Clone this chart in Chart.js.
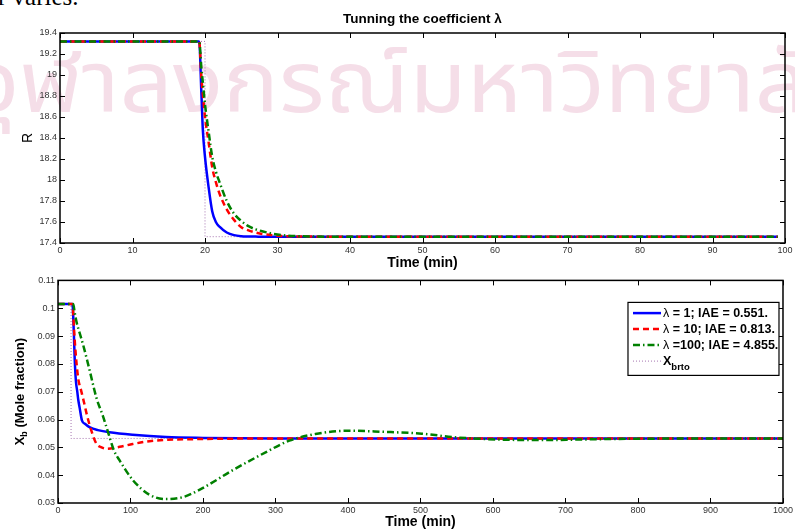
<!DOCTYPE html>
<html>
<head>
<meta charset="utf-8">
<script src="https://cdn.jsdelivr.net/npm/chart.js@4.4.0/dist/chart.umd.min.js"></script>
<style>
  body { margin: 0; background: #fff; width: 795px; height: 531px; overflow: hidden; position: relative; }
  #mark { position: absolute; left: -30px; top: 44px; font-size: 118px; line-height: 1; color: rgb(245, 222, 232);
          white-space: nowrap; font-family: "Noto Sans Thai", "Noto Sans", sans-serif;
          transform: scale(0.79, 0.72); transform-origin: 0 0; }
  #cut { position: absolute; left: -2px; top: -17px; font: 25px "Liberation Serif", serif; color: #000; }
  #topChart { position: absolute; left: 0; top: 0; }
  #botChart { position: absolute; left: 0; top: 272px; }
</style>
</head>
<body>
<div id="mark">จุฬาลงกรณ์มหาวิทยาลัย</div>
<div id="cut">r varies.</div>
<canvas id="topChart" width="795" height="272"></canvas>
<canvas id="botChart" width="795" height="259"></canvas>
<script>
// ---- top plot: R vs time ----
const timeR = [0, 19.2, 19.5, 19.7, 20, 20.5, 21, 21.5, 22, 23, 24, 25, 26, 27, 28, 30, 33, 40, 99];
const rLambda1   = [19.32, 19.32, 18.83, 18.48, 18.22, 17.93, 17.70, 17.60, 17.555, 17.50, 17.475, 17.465, 17.462, 17.461, 17.46, 17.46, 17.46, 17.46, 17.46];
const rLambda10  = [19.32, 19.32, 18.98, 18.82, 18.60, 18.36, 18.12, 17.98, 17.87, 17.72, 17.62, 17.55, 17.52, 17.50, 17.485, 17.47, 17.462, 17.46, 17.46];
const rLambda100 = [19.32, 19.32, 19.07, 18.93, 18.72, 18.46, 18.22, 18.08, 17.98, 17.80, 17.68, 17.61, 17.56, 17.53, 17.51, 17.48, 17.465, 17.46, 17.46];
const refTimeR = [0, 20, 20, 99];
const refR = [19.32, 19.32, 17.46, 17.46];

// ---- bottom plot: Xb vs time ----
const tBlue  = [0, 20, 21, 22, 23, 24, 25, 26.5, 28, 30, 33, 38, 44, 55, 71, 103, 149, 200, 300, 1000];
const xbBlue = [0.1015, 0.1015, 0.097, 0.09, 0.082, 0.0765, 0.073, 0.0702, 0.067, 0.064, 0.0597, 0.0583, 0.0572, 0.0562, 0.0554, 0.0545, 0.0537, 0.0534, 0.0532, 0.0532];
const tRed   = [0, 20, 21, 22, 24, 26, 28, 32, 36, 40, 46, 53, 60, 67, 85, 103, 126, 150, 200, 300, 1000];
const xbRed  = [0.1015, 0.1015, 0.098, 0.093, 0.085, 0.079, 0.0745, 0.0703, 0.066, 0.0615, 0.056, 0.0513, 0.050, 0.0495, 0.0502, 0.0512, 0.0522, 0.0527, 0.053, 0.0532, 0.0532];
const tGreen  = [0, 21, 23, 25.6, 30, 34.8, 40, 44, 53, 62, 69, 77, 85, 103, 126, 149, 172, 195, 241, 287, 319, 355, 401, 447, 502, 548, 580, 625, 671, 717, 763, 808, 870, 1000];
const xbGreen = [0.1015, 0.1015, 0.0985, 0.095, 0.091, 0.0867, 0.0815, 0.0773, 0.0678, 0.0612, 0.0555, 0.049, 0.0453, 0.0383, 0.033, 0.0314, 0.0321, 0.0347, 0.0418, 0.0483, 0.0524, 0.0548, 0.056, 0.0556, 0.0549, 0.0536, 0.0531, 0.0527, 0.0526, 0.0528, 0.053, 0.0531, 0.0532, 0.0532];
const refTimeXb = [0, 18, 18, 1000];
const refXb = [0.1015, 0.1015, 0.0532, 0.0532];

const legendLabels = ['λ = 1; IAE = 0.551.', 'λ = 10; IAE = 0.813.', 'λ =100; IAE = 4.855.', 'X_brto'];

const BLUE = '#0000ff', RED = '#ff0000', GREEN = '#008000', REF = 'rgb(165,115,175)';
const FONT = '"Liberation Sans", Arial, sans-serif';

function pts(xs, ys) { return xs.map((x, i) => ({ x: x, y: ys[i] })); }

function seriesSets(tb, b, tr, r, tg, g, tref, ref) {
  return [
    { label: legendLabels[2], data: pts(tg, g), borderColor: GREEN, borderWidth: 2.5, borderDash: [7, 3, 1.5, 3], cubicInterpolationMode: 'monotone', order: 1 },
    { label: legendLabels[1], data: pts(tr, r), borderColor: RED, borderWidth: 2.5, borderDash: [6, 4], cubicInterpolationMode: 'monotone', order: 2 },
    { label: legendLabels[0], data: pts(tb, b), borderColor: BLUE, borderWidth: 2.5, cubicInterpolationMode: 'monotone', order: 3 },
    { label: legendLabels[3], data: pts(tref, ref), borderColor: REF, borderWidth: 1, borderDash: [1, 2], order: 4 }
  ];
}

// inward ticks on all four sides plus the axes box
const boxTicks = {
  id: 'boxTicks',
  afterDatasetsDraw(chart) {
    const { ctx, chartArea: a, scales: { x, y } } = chart;
    ctx.save();
    ctx.strokeStyle = '#000';
    ctx.lineWidth = 1;
    ctx.beginPath();
    x.ticks.forEach(t => {
      const p = Math.round(x.getPixelForValue(t.value)) + 0.5;
      ctx.moveTo(p, a.bottom); ctx.lineTo(p, a.bottom - 5);
      ctx.moveTo(p, a.top); ctx.lineTo(p, a.top + 5);
    });
    y.ticks.forEach(t => {
      const p = Math.round(y.getPixelForValue(t.value)) + 0.5;
      ctx.moveTo(a.left, p); ctx.lineTo(a.left + 5, p);
      ctx.moveTo(a.right, p); ctx.lineTo(a.right - 5, p);
    });
    ctx.stroke();
    ctx.lineWidth = 1.5;
    ctx.strokeRect(a.left, a.top, a.right - a.left, a.bottom - a.top);
    ctx.restore();
  }
};

function tickFmt(v) { return String(+v.toFixed(3)); }

function baseScales(xmin, xmax, xstep, ymin, ymax, ystep, yWidth, xHeight) {
  return {
    x: {
      type: 'linear', min: xmin, max: xmax,
      afterFit: s => { s.height = xHeight; },
      ticks: { stepSize: xstep, padding: 2, color: '#333', font: { family: FONT, size: 9 }, maxRotation: 0, callback: tickFmt },
      grid: { drawOnChartArea: false, drawTicks: false },
      border: { display: false },
      title: { display: true, text: 'Time (min)', color: '#000', font: { family: FONT, size: 14, weight: 'bold', lineHeight: 1 }, padding: { top: 0, bottom: 2 } }
    },
    y: {
      min: ymin, max: ymax,
      afterFit: s => { s.width = yWidth; },
      ticks: { stepSize: ystep, padding: 3, color: '#333', font: { family: FONT, size: 9 }, callback: tickFmt },
      grid: { drawOnChartArea: false, drawTicks: false },
      border: { display: false }
    }
  };
}

const topScales = baseScales(0, 100, 10, 17.4, 19.4, 0.2, 60, 29);
topScales.y.title = { display: true, text: 'R', color: '#000', font: { family: FONT, size: 14, lineHeight: 1 }, padding: { top: 21, bottom: 0 } };

new Chart(document.getElementById('topChart'), {
  type: 'line',
  data: { datasets: seriesSets(timeR, rLambda1, timeR, rLambda10, timeR, rLambda100, refTimeR, refR) },
  options: {
    responsive: false, animation: false,
    layout: { padding: { left: 0, right: 10, top: 0, bottom: 0 } },
    elements: { point: { radius: 0 } },
    scales: topScales,
    plugins: {
      legend: { display: false }, tooltip: { enabled: false },
      title: { display: true, fullSize: false, text: 'Tunning the coefficient λ', color: '#000', font: { family: FONT, size: 13.5, weight: 'bold', lineHeight: 1.2 }, padding: { top: 11.5, bottom: 5.3 } }
    }
  },
  plugins: [boxTicks]
});

// legend box + subscripted y label for the lower plot
const lowerDecor = {
  id: 'lowerDecor',
  afterDraw(chart) {
    const { ctx, chartArea: a } = chart;
    ctx.save();
    // y axis label X_b (Mole fraction)
    ctx.translate(20, (a.top + a.bottom) / 2);
    ctx.rotate(-Math.PI / 2);
    ctx.fillStyle = '#000';
    ctx.textBaseline = 'middle';
    const big = 'bold 13px ' + FONT, small = 'bold 9px ' + FONT;
    ctx.font = big; const wX = ctx.measureText('X').width; const wRest = ctx.measureText(' (Mole fraction)').width;
    ctx.font = small; const wb = ctx.measureText('b').width;
    let sx = -(wX + wb + wRest) / 2;
    ctx.font = big; ctx.fillText('X', sx, 0); sx += wX;
    ctx.font = small; ctx.fillText('b', sx, 5); sx += wb;
    ctx.font = big; ctx.fillText(' (Mole fraction)', sx, 0);
    ctx.restore();

    // legend
    const bx = a.right - 155, by = a.top + 22, bw = 151, bh = 73;
    ctx.save();
    ctx.fillStyle = '#fff';
    ctx.fillRect(bx, by, bw, bh);
    ctx.strokeStyle = '#000'; ctx.lineWidth = 1.2;
    ctx.strokeRect(bx, by, bw, bh);
    const sets = chart.data.datasets.slice().sort((p, q) => legendLabels.indexOf(p.label) - legendLabels.indexOf(q.label));
    sets.forEach((ds, i) => {
      const ry = by + 10.7 + i * 16;
      ctx.beginPath();
      ctx.strokeStyle = ds.borderColor; ctx.lineWidth = ds.borderWidth;
      ctx.setLineDash(ds.borderDash || []);
      ctx.moveTo(bx + 5, ry); ctx.lineTo(bx + 33, ry);
      ctx.stroke();
      ctx.setLineDash([]);
      ctx.fillStyle = '#000'; ctx.textBaseline = 'middle';
      const lab = ds.label;
      let tx = bx + 35;
      if (lab.indexOf('_') > 0) {
        const parts = lab.split('_');
        ctx.font = 'bold 12.5px ' + FONT; ctx.fillText(parts[0], tx, ry);
        tx += ctx.measureText(parts[0]).width;
        ctx.font = 'bold 9.5px ' + FONT; ctx.fillText(parts[1], tx, ry + 6);
      } else {
        ctx.font = '12.5px ' + FONT; ctx.fillText(lab[0], tx, ry);
        tx += ctx.measureText(lab[0]).width;
        ctx.font = 'bold 12.5px ' + FONT; ctx.fillText(lab.slice(1), tx, ry);
      }
    });
    ctx.restore();
  }
};

new Chart(document.getElementById('botChart'), {
  type: 'line',
  data: { datasets: seriesSets(tBlue, xbBlue, tRed, xbRed, tGreen, xbGreen, refTimeXb, refXb) },
  options: {
    responsive: false, animation: false,
    layout: { padding: { left: 0, right: 9, top: 6, bottom: 0 } },
    elements: { point: { radius: 0 } },
    scales: baseScales(0, 1000, 100, 0.03, 0.11, 0.01, 58, 28),
    plugins: { legend: { display: false }, tooltip: { enabled: false } }
  },
  plugins: [boxTicks, lowerDecor]
});
</script>
</body>
</html>
